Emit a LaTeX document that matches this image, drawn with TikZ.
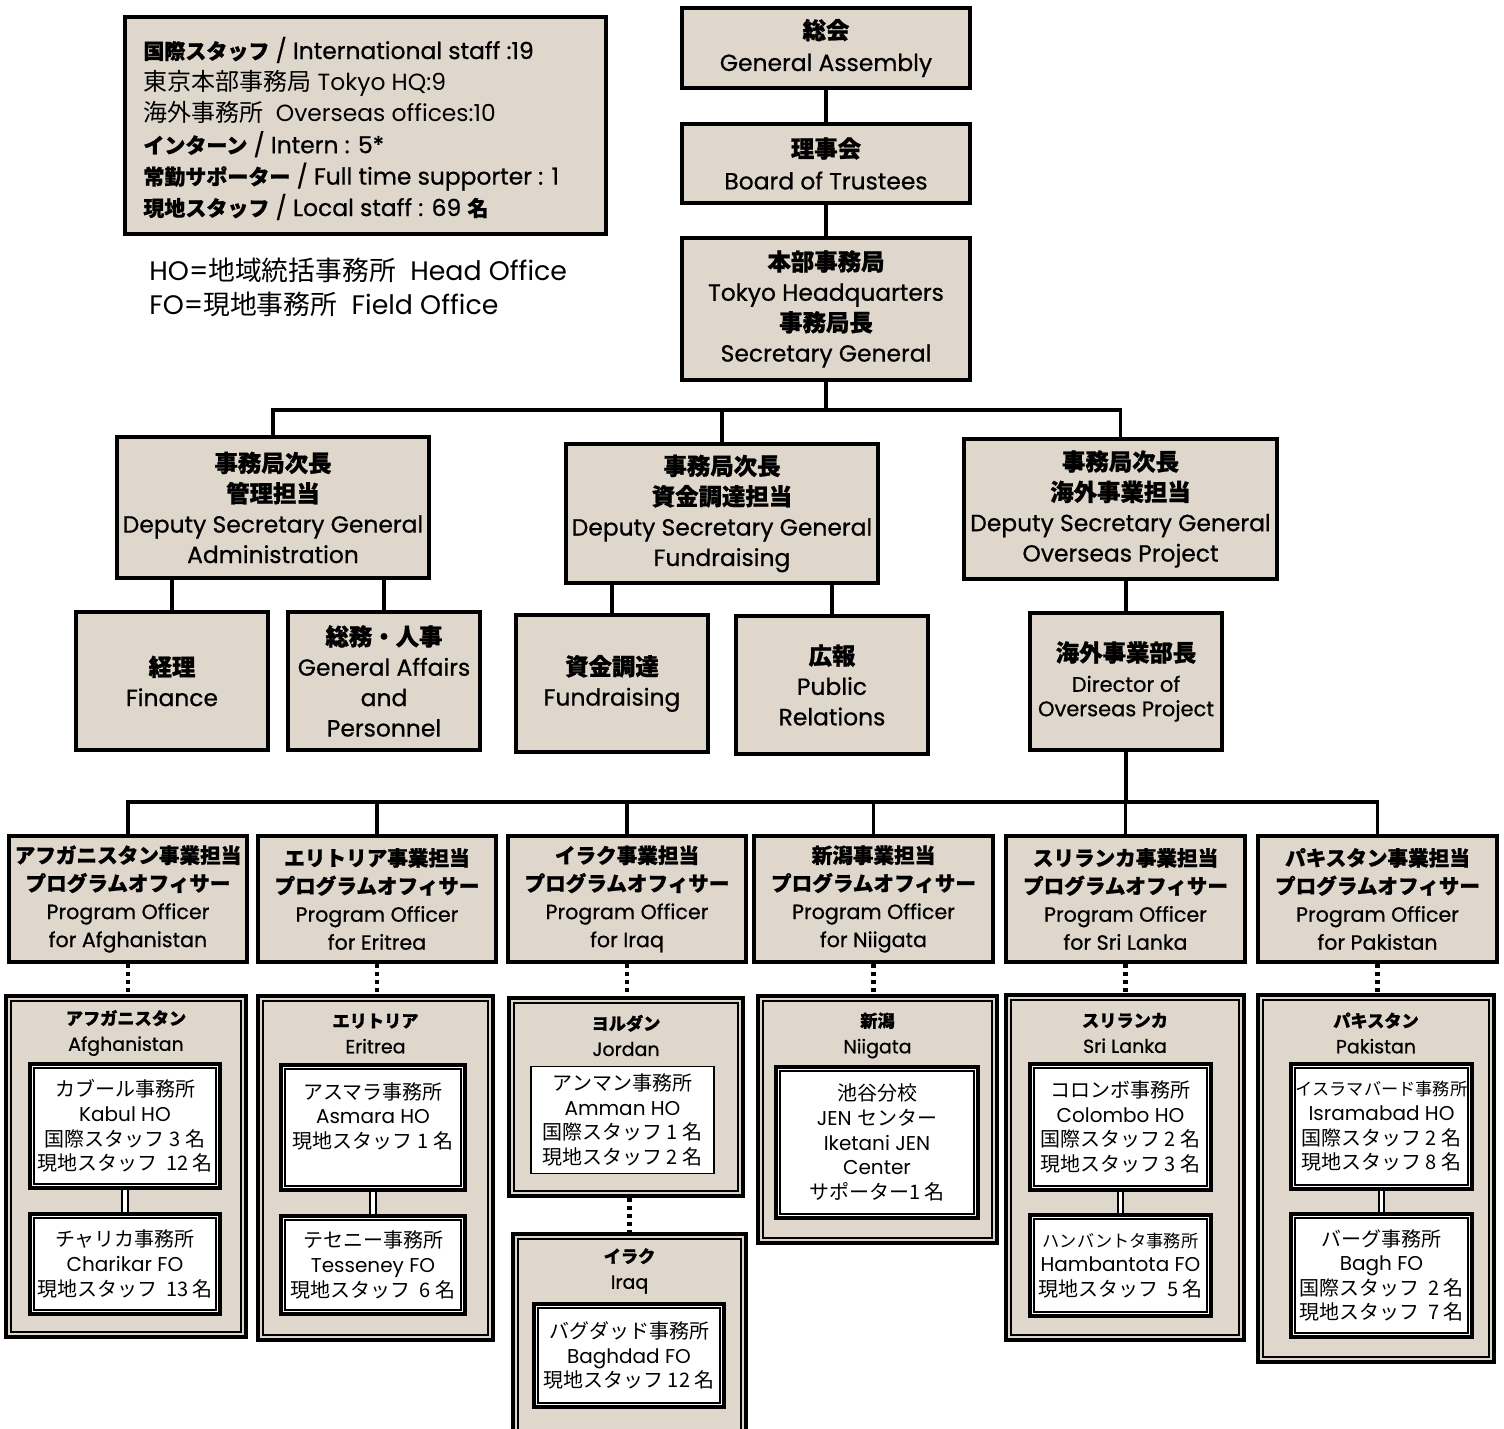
\documentclass[tikz,border=0pt]{standalone}
\usepackage{fontspec}
\setmainfont{Poppins}
\newfontfamily\medf{Poppins}[FakeBold=0.7]
\newfontfamily\jpf{Noto Sans CJK JP}[BoldFeatures={FakeBold=1}]
\usetikzlibrary{calc}
\definecolor{beige}{RGB}{223,215,203}
\newcommand\JaR[1]{{\jpf #1}}
\newcommand\JaB[1]{{\jpf\bfseries #1}}
\newcommand\JaS[1]{{\jpf\fontsize{8.6}{12.3}\selectfont #1}}
\newcommand\LgB[1]{{\jpf\bfseries\fontsize{10.5}{15.7}\selectfont #1}}
\newcommand\LgR[1]{{\jpf\fontsize{12}{15.7}\selectfont #1}}
\tikzset{
 sz/.style 2 args={minimum width=#1*0.5pt,minimum height=#2*0.5pt},
 mybox/.style={draw,line width=2pt,fill=beige,align=center,inner sep=0pt},
 upb/.style={mybox,font=\medf\fontsize{11.7}{15.2}\selectfont},
 pob/.style={mybox,font=\medf\fontsize{10.3}{14}\selectfont},
 ctry/.style={draw,line width=1.6pt,fill=beige,inner sep=0pt},
 ctitle/.style={align=center,inner sep=0pt,font=\medf\fontsize{9.5}{13}\selectfont},
 office/.style={draw,line width=1.6pt,fill=white,align=center,inner sep=0pt,font=\fontsize{10}{12.3}\selectfont},
 officeS/.style={office,line width=0.8pt},
 conn/.style={line width=1.6pt},
 dotc/.style={line width=2.2pt,dash pattern=on 2pt off 2pt},
 dbl/.style={line width=0.9pt,double=white,double distance=1.8pt}}
\begin{document}
\begin{tikzpicture}[x=0.5pt,y=-0.5pt]
\useasboundingbox (0,0) rectangle (1504,1429);
\clip (0,0) rectangle (1504,1429);
\fill[white] (0,0) rectangle (1504,1429);

% legend
\node[draw,line width=1.6pt,fill=beige,sz={481}{217}] (leg) at (365.5,125.5) {};
\node[anchor=west,align=left,inner sep=0pt,font=\fontsize{11.7}{15.7}\selectfont] (legt) at (143,128.5)
 {\LgB{国際スタッフ} {\medf/ International staff :19}\\
  \LgR{東京本部事務局} Tokyo HQ:9\\
  \LgR{海外事務所}\ \ Overseas offices:10\\
  \LgB{インターン} {\medf/ Intern : 5*}\\
  \LgB{常勤サポーター} {\medf/ Full time supporter : 1}\\
  \LgB{現地スタッフ} {\medf/ Local staff : 69} \LgB{名}};
\node[anchor=west,align=left,inner sep=0pt,font=\fontsize{13.4}{17}\selectfont] (hofo) at (149,287)
 {HO=\JaR{地域統括事務所}\ \ Head Office\\FO=\JaR{現地事務所}\ \ Field Office};

% top chain
\node[upb,sz={288}{80},font=\medf\fontsize{11.7}{16}\selectfont] (ga) at (826,48) {\JaB{総会}\\General Assembly};
\node[upb,sz={288}{79},font=\medf\fontsize{11.7}{16}\selectfont] (bt) at (826,163.5) {\JaB{理事会}\\Board of Trustees};
\node[upb,sz={288}{142}] (hq) at (826,309) {\JaB{本部事務局}\\Tokyo Headquarters\\\JaB{事務局長}\\Secretary General};
\draw[conn] (ga.south) -- (bt.north);
\draw[conn] (bt.south) -- (hq.north);

% deputies
\coordinate (bus1) at (826,410);
\node[upb,sz={312}{141}] (dadm) at (273,507.5) {\JaB{事務局次長}\\\JaB{管理担当}\\Deputy Secretary General\\Administration};
\node[upb,sz={312}{139}] (dfund) at (722,513.5) {\JaB{事務局次長}\\\JaB{資金調達担当}\\Deputy Secretary General\\Fundraising};
\node[upb,sz={313}{140}] (dover) at (1120.5,509) {\JaB{事務局次長}\\\JaB{海外事業担当}\\Deputy Secretary General\\Overseas Project};
\draw[conn] (hq.south) -- (bus1);
\draw[conn] (dadm.north) |- (bus1) -| (dover.north);
\draw[conn] (dfund.north) -- (dfund.north |- bus1);

% sub boxes
\node[upb,sz={192}{138}] (fin) at (172,681) {\JaB{経理}\\Finance};
\node[upb,sz={192}{138}] (gap) at (384,681) {\JaB{総務・人事}\\General Affairs\\and\\Personnel};
\node[upb,sz={192}{137}] (fr) at (612,683.5) {\JaB{資金調達}\\Fundraising};
\node[upb,sz={192}{138}] (pr) at (832,685) {\JaB{広報}\\Public\\Relations};
\node[upb,sz={192}{137}] (dir) at (1126,681.5) {\JaB{海外事業部長}\\\fontsize{10.5}{12.5}\selectfont Director of\\[-3pt]\fontsize{10.5}{12.5}\selectfont Overseas Project};
\draw[conn] (fin.north |- dadm.south) -- (fin.north);
\draw[conn] (gap.north |- dadm.south) -- (gap.north);
\draw[conn] (fr.north |- dfund.south) -- (fr.north);
\draw[conn] (pr.north |- dfund.south) -- (pr.north);
\draw[conn] (dir.north |- dover.south) -- (dir.north);

% program officers
\coordinate (bus2) at (1126,802);
\node[pob,sz={238}{126}] (po1) at (128,899) {\JaB{アフガニスタン事業担当}\\\JaB{プログラムオフィサー}\\Program Officer\\for Afghanistan};
\node[pob,sz={238}{126}] (po2) at (377,899) {\JaB{エリトリア事業担当}\\\JaB{プログラムオフィサー}\\Program Officer\\for Eritrea};
\node[pob,sz={238}{126}] (po3) at (627,899) {\JaB{イラク事業担当}\\\JaB{プログラムオフィサー}\\Program Officer\\for Iraq};
\node[pob,sz={239}{126}] (po4) at (873.5,899) {\JaB{新潟事業担当}\\\JaB{プログラムオフィサー}\\Program Officer\\for Niigata};
\node[pob,sz={239}{126}] (po5) at (1125.5,899) {\JaB{スリランカ事業担当}\\\JaB{プログラムオフィサー}\\Program Officer\\for Sri Lanka};
\node[pob,sz={239}{126}] (po6) at (1377.5,899) {\JaB{パキスタン事業担当}\\\JaB{プログラムオフィサー}\\Program Officer\\for Pakistan};
\draw[conn] (dir.south) -- (bus2);
\draw[conn] (po1.north) |- (bus2) -| (po6.north);
\foreach \n in {po2,po3,po4,po5} \draw[conn] (\n.north) -- (\n.north |- bus2);

% country boxes
\node[ctry,sz={240}{341}] (c1) at (126,1166.5) {};
\node[ctry,sz={235}{344}] (c2) at (375.5,1168) {};
\node[ctry,sz={234}{198}] (c3) at (626,1097) {};
\node[ctry,sz={233}{216}] (c3b) at (629.5,1342) {};
\node[ctry,sz={239}{247}] (c4) at (877.5,1119.5) {};
\node[ctry,sz={238}{345}] (c5) at (1125,1167.5) {};
\node[ctry,sz={236}{367}] (c6) at (1376,1178.5) {};
\foreach \n in {c1,c2,c3,c3b,c4,c5,c6}
  \draw[line width=0.75pt] ($(\n.north west)+(6.5,6.5)$) rectangle ($(\n.south east)+(-6.5,-6.5)$);

\node[ctitle] (t1) at (126,1033) {\JaS{\bfseries アフガニスタン}\\Afghanistan};
\node[ctitle] (t2) at (375.5,1033.5) {\JaS{\bfseries エリトリア}\\Eritrea};
\node[ctitle] (t3) at (626,1035.5) {\JaS{\bfseries ヨルダン}\\Jordan};
\node[ctitle] (t3b) at (629.5,1271) {\JaS{\bfseries イラク}\\Iraq};
\node[ctitle] (t4) at (877.5,1035.5) {\JaS{\bfseries 新潟}\\Niigata};
\node[ctitle] (t5) at (1125,1033) {\JaS{\bfseries スリランカ}\\Sri Lanka};
\node[ctitle] (t6) at (1376,1033) {\JaS{\bfseries パキスタン}\\Pakistan};

\foreach \a/\b in {po1/c1,po2/c2,po3/c3,po4/c4,po5/c5,po6/c6}
  \draw[dotc] (\a.south) -- (\a.south |- \b.north);
\draw[dotc] (c3b.north |- c3.south) -- (c3b.north);

% offices
\node[office,sz={190}{124}] (o1) at (125,1126) {\JaR{カブール事務所}\\Kabul HO\\\JaR{国際スタッフ 3 名}\\\JaR{現地スタッフ\ \ 12 名}};
\node[office,sz={190}{100}] (o2) at (125,1264) {\JaR{チャリカ事務所}\\Charikar FO\\\JaR{現地スタッフ\ \ 13 名}};
\node[office,sz={184}{125}] (o3) at (373,1127.5) {\JaR{アスマラ事務所}\\Asmara HO\\\JaR{現地スタッフ 1 名}\\\mbox{}};
\node[office,sz={184}{98}] (o4) at (373,1265) {\JaR{テセニー事務所}\\Tesseney FO\\\JaR{現地スタッフ\ \ 6 名}};
\node[officeS,sz={183}{107}] (o5) at (622.5,1120) {\JaR{アンマン事務所}\\Amman HO\\\JaR{国際スタッフ 1 名}\\\JaR{現地スタッフ 2 名}};
\node[office,sz={190}{103}] (o6) at (629,1355.5) {\JaR{バグダッド事務所}\\Baghdad FO\\\JaR{現地スタッフ 12 名}};
\node[office,sz={202}{151}] (o7) at (877,1142.5) {\JaR{池谷分校}\\JEN \JaR{センター}\\Iketani JEN\\Center\\\JaR{サポーター1 名}};
\node[office,sz={181}{126}] (o8) at (1120.5,1127) {\JaR{コロンボ事務所}\\Colombo HO\\\JaR{国際スタッフ 2 名}\\\JaR{現地スタッフ 3 名}};
\node[office,sz={181}{101}] (o9) at (1120.5,1265.5) {\JaS{ハンバントタ事務所}\\Hambantota FO\\\JaR{現地スタッフ\ \ 5 名}};
\node[office,sz={181}{125}] (o10) at (1381.5,1126.5) {\JaS{イスラマバード事務所}\\Isramabad HO\\\JaR{国際スタッフ 2 名}\\\JaR{現地スタッフ 8 名}};
\node[office,sz={181}{123}] (o11) at (1381.5,1275.5) {\JaR{バーグ事務所}\\Bagh FO\\\JaR{国際スタッフ\ \ 2 名}\\\JaR{現地スタッフ\ \ 7 名}};
\foreach \n in {o1,o2,o3,o4,o6,o7,o8,o9,o10,o11}
  \draw[line width=0.75pt] ($(\n.north west)+(5.5,5.5)$) rectangle ($(\n.south east)+(-5.5,-5.5)$);
\draw[dbl] (o1.south) -- (o2.north);
\draw[dbl] (o3.south) -- (o4.north);
\draw[dbl] (o8.south) -- (o9.north);
\draw[dbl] (o10.south) -- (o11.north);
\end{tikzpicture}
\end{document}
